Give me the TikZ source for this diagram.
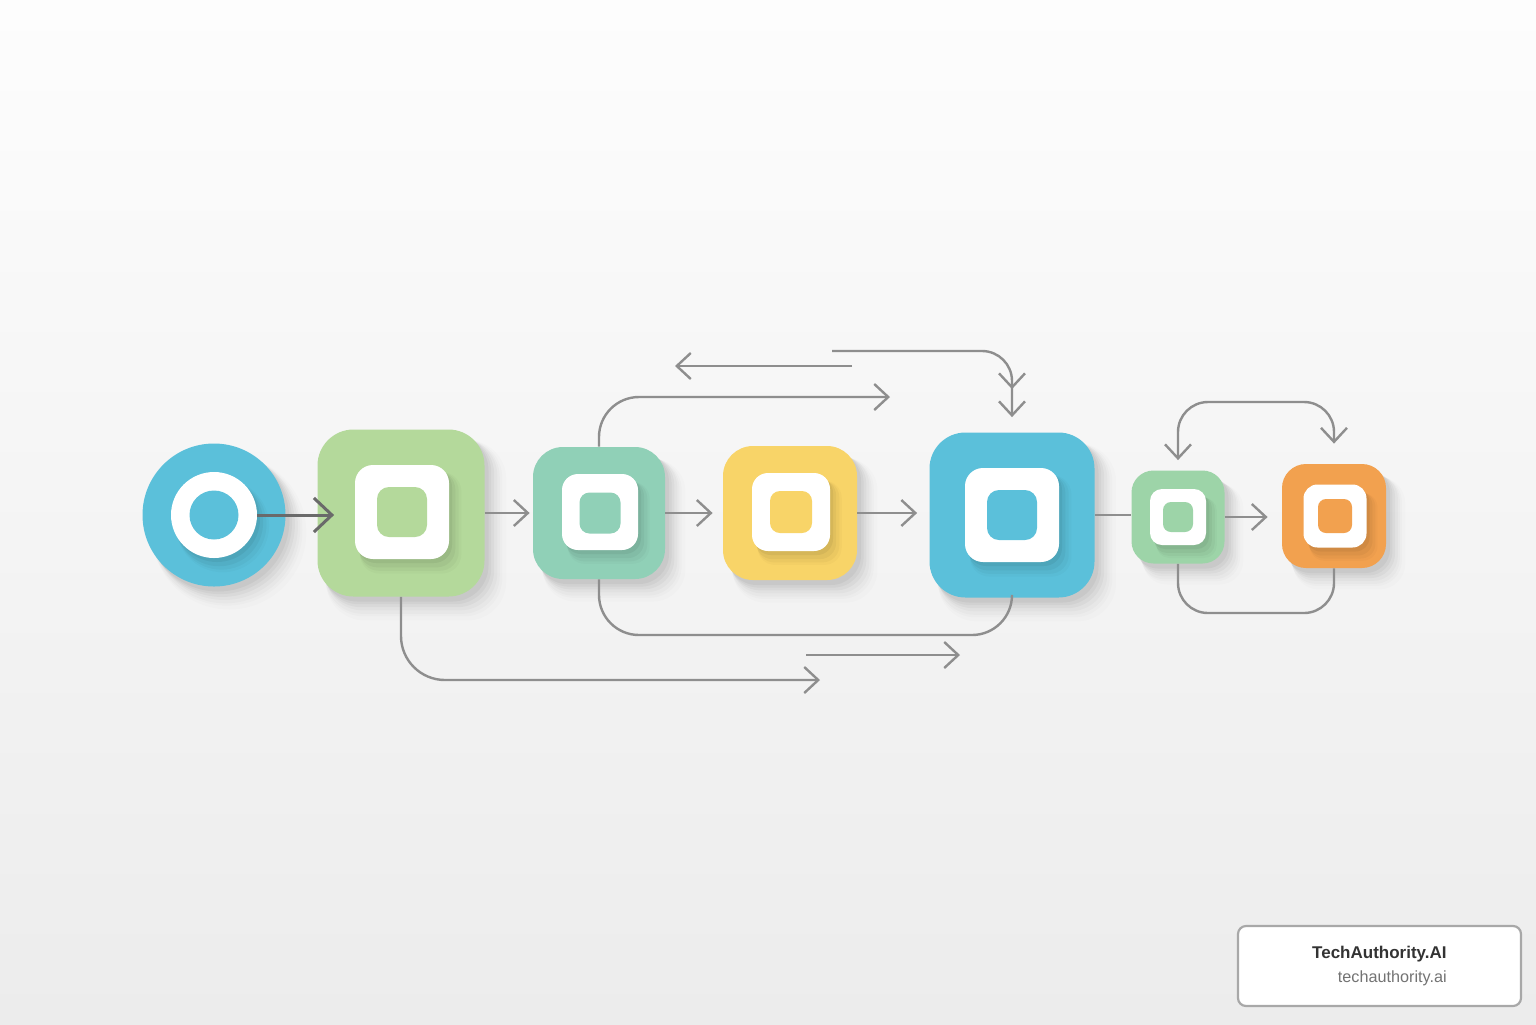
\documentclass[tikz,border=0pt]{standalone}
\usepackage{fontspec}
\setmainfont{Liberation Sans}
\usetikzlibrary{arrows.meta,shadows,decorations.markings}
\definecolor{cblue}{HTML}{5BC0DA}
\definecolor{cgreen}{HTML}{B4D99B}
\definecolor{cteal}{HTML}{90D0B7}
\definecolor{cyellow}{HTML}{F8D468}
\definecolor{cgreen2}{HTML}{9DD4A8}
\definecolor{corange}{HTML}{F2A14F}
\definecolor{lineg}{HTML}{8E8E8E}
\definecolor{lined}{HTML}{6A6A6A}
\definecolor{bgtop}{HTML}{FDFDFD}
\definecolor{bgbot}{HTML}{ECECEC}
\definecolor{logoborder}{HTML}{A8A8A8}
\begin{document}
\begin{tikzpicture}[x=0.5pt,y=-0.5pt,
  bigshadow/.style={
    general shadow={fill=black, opacity=0.012, shadow xshift=7pt, shadow yshift=-8pt, shadow scale=1.08},
    general shadow={fill=black, opacity=0.016, shadow xshift=6pt, shadow yshift=-7pt, shadow scale=1.06},
    general shadow={fill=black, opacity=0.02, shadow xshift=5.5pt, shadow yshift=-6.5pt, shadow scale=1.045},
    general shadow={fill=black, opacity=0.025, shadow xshift=5pt, shadow yshift=-5.5pt, shadow scale=1.03},
    general shadow={fill=black, opacity=0.03, shadow xshift=4pt, shadow yshift=-4.5pt, shadow scale=1.018},
    general shadow={fill=black, opacity=0.035, shadow xshift=3pt, shadow yshift=-3.5pt, shadow scale=1.008},
    general shadow={fill=black, opacity=0.04, shadow xshift=2pt, shadow yshift=-2.5pt}},
  smallshadow/.style={
    general shadow={fill=black, opacity=0.02, shadow xshift=4pt, shadow yshift=-5pt, shadow scale=1.08},
    general shadow={fill=black, opacity=0.03, shadow xshift=3.5pt, shadow yshift=-4.5pt, shadow scale=1.05},
    general shadow={fill=black, opacity=0.04, shadow xshift=2.5pt, shadow yshift=-3.5pt, shadow scale=1.025},
    general shadow={fill=black, opacity=0.05, shadow xshift=1.5pt, shadow yshift=-2pt}},
  box/.style={draw=none, rounded corners=#1, inner sep=0pt, bigshadow},
  wbox/.style={draw=none, fill=white, rounded corners=#1, inner sep=0pt, smallshadow},
  ibox/.style={draw=none, rounded corners=#1, inner sep=0pt},
  conn/.style={draw=lineg, line width=1.2pt, -{Straight Barb[length=7pt,width=13pt]}},
  plain/.style={draw=lineg, line width=1.2pt}
]
% background
\shade[top color=bgtop, bottom color=bgbot] (0,0) rectangle (1536,1024);
\useasboundingbox (0,0) rectangle (1536,1024);

% node 1 (circle)
\node[circle, fill=cblue, inner sep=0pt, minimum size=143*0.5pt, bigshadow] (n1) at (214,515) {};
\node[circle, fill=white, inner sep=0pt, minimum size=86*0.5pt, smallshadow] (n1w) at (214,515) {};
\node[circle, fill=cblue, inner sep=0pt, minimum size=49*0.5pt] (n1c) at (214,515) {};

% node 2 green
\node[box=18pt, fill=cgreen, minimum size=167*0.5pt] (n2) at (401,513) {};
\node[wbox=9pt, minimum size=94*0.5pt] (n2w) at (402,512) {};
\node[ibox=6pt, fill=cgreen, minimum size=50*0.5pt] (n2c) at (402,512) {};

% node 3 teal
\node[box=15pt, fill=cteal, minimum size=132*0.5pt] (n3) at (599,513) {};
\node[wbox=8pt, minimum size=76*0.5pt] (n3w) at (600,512) {};
\node[ibox=5pt, fill=cteal, minimum size=41*0.5pt] (n3c) at (600,513) {};

% node 4 yellow
\node[box=15pt, fill=cyellow, minimum size=134*0.5pt] (n4) at (790,513) {};
\node[wbox=8pt, minimum size=78*0.5pt] (n4w) at (791,512) {};
\node[ibox=5pt, fill=cyellow, minimum size=42*0.5pt] (n4c) at (791,512) {};

% node 5 blue
\node[box=18pt, fill=cblue, minimum size=165*0.5pt] (n5) at (1012,515) {};
\node[wbox=9pt, minimum size=94*0.5pt] (n5w) at (1012,515) {};
\node[ibox=6pt, fill=cblue, minimum size=50*0.5pt] (n5c) at (1012,515) {};

% node 6 small green
\node[box=11pt, fill=cgreen2, minimum size=93*0.5pt] (n6) at (1178,517) {};
\node[wbox=6pt, minimum size=56*0.5pt] (n6w) at (1178,517) {};
\node[ibox=4pt, fill=cgreen2, minimum size=30*0.5pt] (n6c) at (1178,517) {};

% node 7 orange
\node[box=12pt, fill=corange, minimum size=104*0.5pt] (n7) at (1334,516) {};
\node[wbox=7pt, minimum size=63*0.5pt] (n7w) at (1335,516) {};
\node[ibox=4pt, fill=corange, minimum size=34*0.5pt] (n7c) at (1335,516) {};

% free-end coordinates
\coordinate (e7) at (820,680);
\coordinate (c8) at (800,635);
\coordinate (a1) at (806,655);
\coordinate (a2) at (960,655);
\coordinate (e9) at (890,397);
\coordinate (b1) at (852,366);
\coordinate (b2) at (675,366);
\coordinate (c11) at (832,351);
\coordinate (t12) at (1256,402);
\coordinate (b13) at (1256,613);

% main flow
\draw[draw=lined, line width=1.5pt, -{Straight Barb[length=9pt,width=17pt]}] (n1w.east) -- ([xshift=8.5pt]n1w.east -| n2.west);
\draw[conn, shorten >=1.5pt] (n2.east) -- (n2.east -| n3.west);
\draw[conn, shorten >=5pt] (n3.east) -- (n3.east -| n4.west);
\draw[conn, shorten >=6pt] (n4.east) -- (n4.east -| n5.west);
\draw[plain] (n5.east) -- (n5.east -| n6.west);
\draw[conn, shorten >=7pt] (n6.east) -- (n6.east -| n7.west);

% loops below
\draw[conn, rounded corners=22pt] (n2.south) |- (e7);
\draw[plain, rounded corners=20pt] (n3.south) |- (c8) -| (n5.south);
\draw[conn] (a1) -- (a2);

% loops above
\draw[conn, rounded corners=20pt] (n3.north) |- (e9);
\draw[conn] (b1) -- (b2);
\draw[conn, rounded corners=15pt,
  postaction={decorate, decoration={markings, mark=at position -14pt with {\arrow[lineg, line width=1.2pt]{Straight Barb[length=7pt,width=13pt]}}}}]
  (c11) -| ([yshift=7.5pt]n5.north);

% small loops
\draw[plain, {Straight Barb[length=7pt,width=13pt]}-{Straight Barb[length=7pt,width=13pt]}, rounded corners=15pt]
  ([yshift=5pt]n6.north) |- (t12) -| ([yshift=10pt]n7.north);
\draw[plain, rounded corners=15pt] (n6.south) |- (b13) -| (n7.south);

% logo
\node[draw=logoborder, line width=1.1pt, rounded corners=4pt, fill=white,
  minimum width=283*0.5pt, minimum height=80*0.5pt, inner sep=0pt] (logo) at (1379.5,966) {};
\node[anchor=east, inner sep=0pt, text=black!80, font=\bfseries\fontsize{8.5}{10}\selectfont] (lt1) at (1447,954) {TechAuthority.AI};
\node[anchor=east, inner sep=0pt, text=black!55, font=\fontsize{8.1}{10}\selectfont] (lt2) at (1447,978) {techauthority.ai};
\end{tikzpicture}
\end{document}
